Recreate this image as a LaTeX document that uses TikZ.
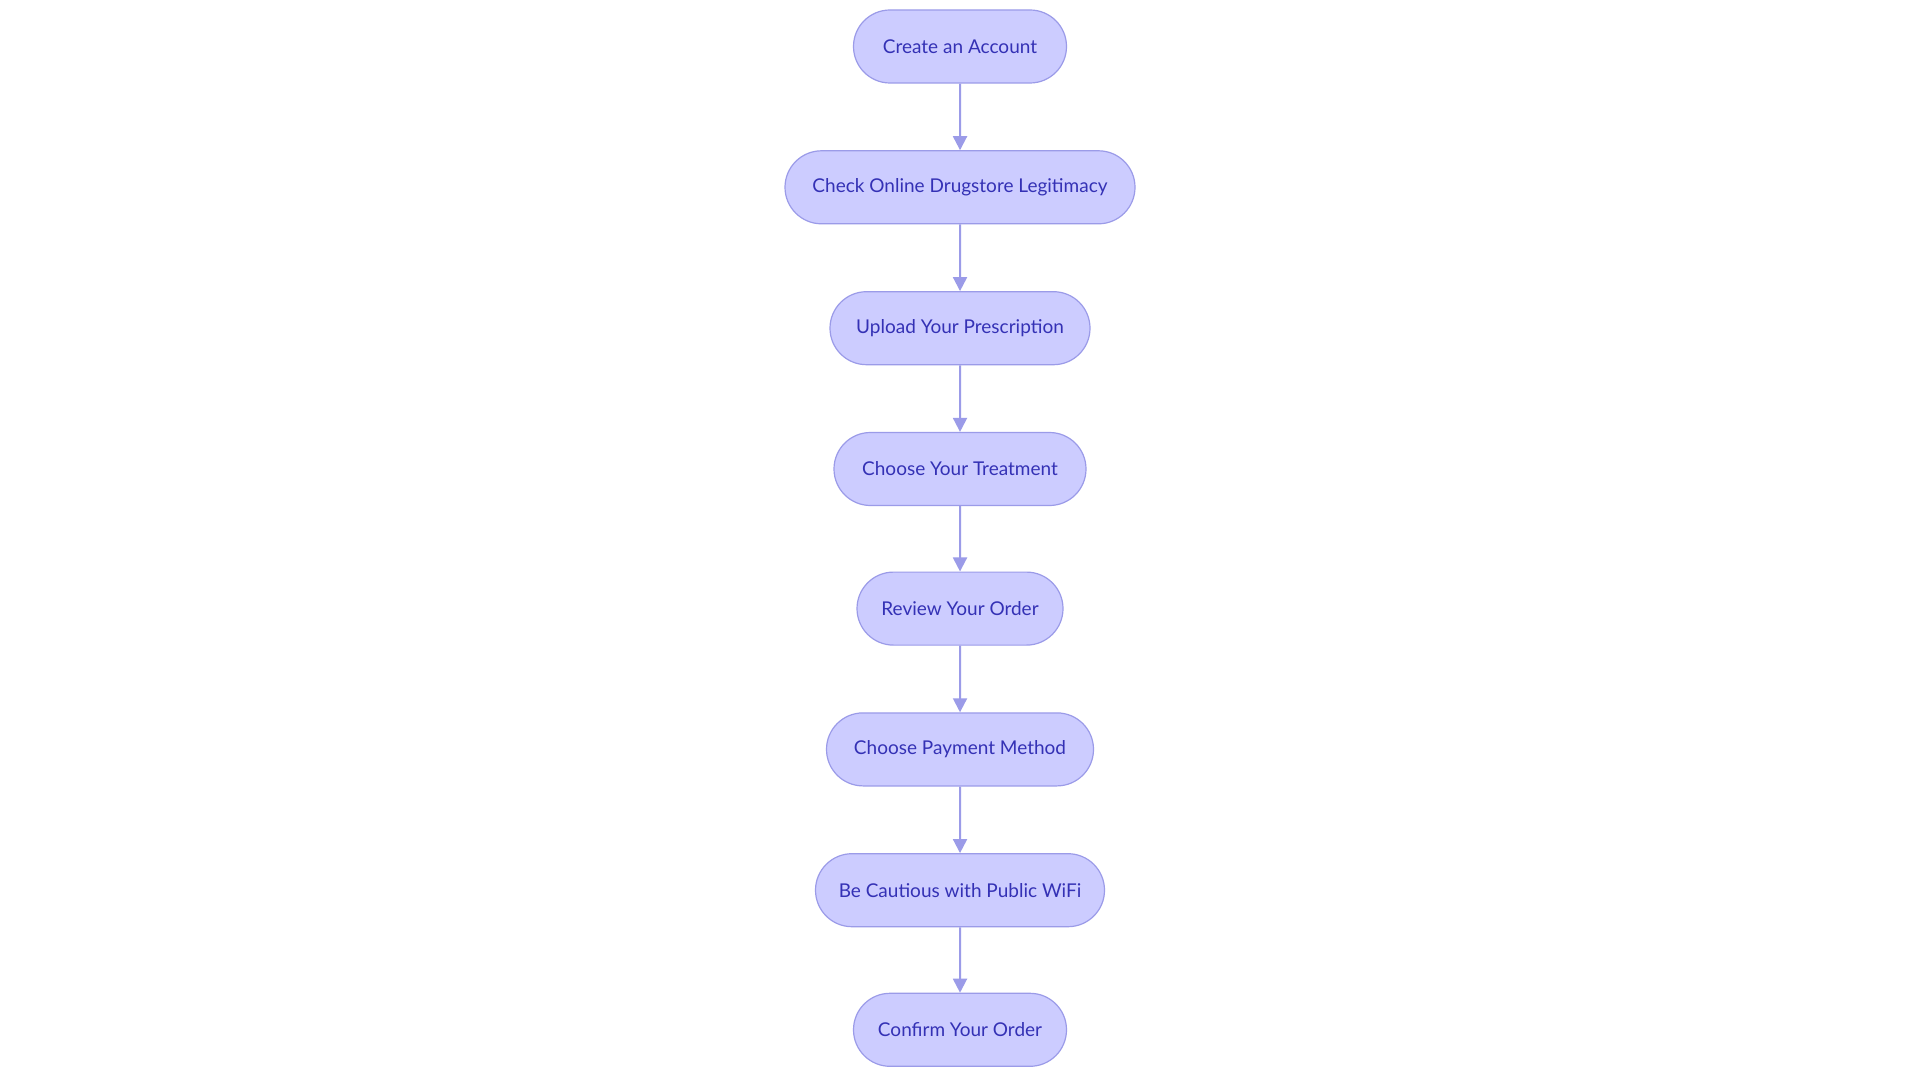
\documentclass[tikz,border=0pt]{standalone}
\usepackage{fontspec}
\setmainfont{Lato}
\usetikzlibrary{arrows.meta,shapes.misc}
\definecolor{nfill}{HTML}{CCCCFF}
\definecolor{nline}{HTML}{9B9BE8}
\definecolor{ntext}{HTML}{3431B5}
\begin{document}
\begin{tikzpicture}[x=1pt,y=-1pt,
 flowstep/.style={rounded rectangle,draw=nline,fill=nfill,line width=1.2pt,minimum height=73pt,text=ntext,font=\fontsize{19}{22}\selectfont,inner sep=0pt},
 conn/.style={draw=nline,line width=2pt,-{Triangle[length=14pt,width=14pt]}}]
\useasboundingbox[fill=white] (0,0) rectangle (1920,1083);
\node[flowstep,minimum width=213pt] (n1) at (960,46.5) {Create an Account};
\node[flowstep,minimum width=350pt] (n2) at (960,187.3) {Check Online Drugstore Legitimacy};
\node[flowstep,minimum width=260pt] (n3) at (960,328.2) {Upload Your Prescription};
\node[flowstep,minimum width=252pt] (n4) at (960,469) {Choose Your Treatment};
\node[flowstep,minimum width=206pt] (n5) at (960,608.6) {Review Your Order};
\node[flowstep,minimum width=267pt] (n6) at (960,749.4) {Choose Payment Method};
\node[flowstep,minimum width=289pt] (n7) at (960,890.2) {Be Cautious with Public WiFi};
\node[flowstep,minimum width=213pt] (n8) at (960,1029.8) {Confirm Your Order};
\foreach \a/\b in {n1/n2,n2/n3,n3/n4,n4/n5,n5/n6,n6/n7,n7/n8}
  \draw[conn] (\a) -- (\b);
\end{tikzpicture}
\end{document}
